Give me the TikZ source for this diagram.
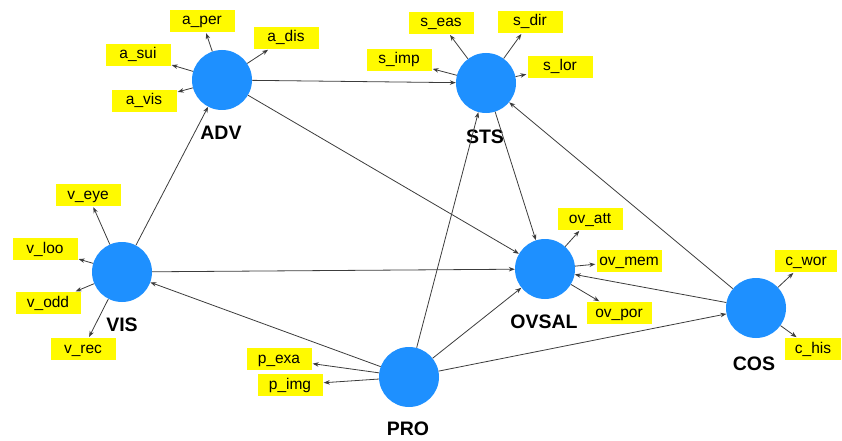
\documentclass[tikz,border=0pt]{standalone}
\usepackage{fontspec}
\setmainfont{Liberation Sans}
\usetikzlibrary{arrows.meta}
\definecolor{lvblue}{RGB}{30,144,255}
\definecolor{indyellow}{RGB}{255,250,0}
\definecolor{linegray}{RGB}{60,60,60}
\begin{document}
\begin{tikzpicture}[x=1pt,y=-1pt,
  lv/.style={circle, fill=lvblue, minimum size=60pt, inner sep=0pt},
  lvname/.style={font=\fontsize{19.5}{19.5}\selectfont\bfseries, text=black, inner sep=0pt},
  ind/.style={fill=indyellow, minimum width=65pt, minimum height=22pt, inner sep=0pt,
    font=\fontsize{15.5}{15.5}\selectfont, text height=11pt, text depth=3pt},
  reg/.style={draw=linegray, line width=0.8pt, -{Stealth[length=6pt,width=4.5pt]}},
  ld/.style={reg, shorten >=1pt}
]
\useasboundingbox (0,0) rectangle (842,441);

% latent variables
\node[lv] (ADV) at (222,80) {};
\node[lv] (STS) at (486,83) {};
\node[lv] (VIS) at (122,272) {};
\node[lv] (OVSAL) at (545,269) {};
\node[lv] (COS) at (756,308) {};
\node[lv] (PRO) at (409,377) {};

\node[lvname] (tADV) at (221,133) {ADV};
\node[lvname] (tSTS) at (485,137) {STS};
\node[lvname] (tVIS) at (122,325) {VIS};
\node[lvname] (tOVSAL) at (544,322) {OVSAL};
\node[lvname] (tCOS) at (754,364) {COS};
\node[lvname] (tPRO) at (408,429) {PRO};

% indicators
\node[ind] (a_per) at (202,21) {a\_per};
\node[ind] (a_dis) at (286,38) {a\_dis};
\node[ind] (a_sui) at (138,55) {a\_sui};
\node[ind] (a_vis) at (144,101) {a\_vis};

\node[ind] (s_eas) at (441,23) {s\_eas};
\node[ind] (s_dir) at (530,22) {s\_dir};
\node[ind] (s_imp) at (399,60) {s\_imp};
\node[ind] (s_lor) at (560,67) {s\_lor};

\node[ind] (v_eye) at (88,195) {v\_eye};
\node[ind] (v_loo) at (45,249) {v\_loo};
\node[ind] (v_odd) at (48,303) {v\_odd};
\node[ind] (v_rec) at (83,349) {v\_rec};

\node[ind] (ov_att) at (590,219) {ov\_att};
\node[ind] (ov_mem) at (629,261) {ov\_mem};
\node[ind] (ov_por) at (619,313) {ov\_por};

\node[ind, minimum width=62pt] (c_wor) at (806,261) {c\_wor};
\node[ind, minimum width=56pt] (c_his) at (813,349) {c\_his};

\node[ind] (p_exa) at (279,359) {p\_exa};
\node[ind] (p_img) at (290,385) {p\_img};

% structural paths
\draw[reg] (ADV) -- (STS);
\draw[reg] (ADV) -- (OVSAL);
\draw[reg] (VIS) -- (ADV);
\draw[reg] (VIS) -- (OVSAL);
\draw[reg] (PRO) -- (VIS);
\draw[reg] (PRO) -- (STS);
\draw[reg] (PRO) -- (OVSAL);
\draw[reg] (PRO) -- (COS);
\draw[reg] (STS) -- (OVSAL);
\draw[reg] (COS) -- (STS);
\draw[reg] (COS) -- (OVSAL);

% loadings
\foreach \i in {a_per,a_dis,a_sui,a_vis} \draw[ld] (ADV) -- (\i);
\foreach \i in {s_eas,s_dir,s_imp,s_lor} \draw[ld] (STS) -- (\i);
\foreach \i in {v_eye,v_loo,v_odd,v_rec} \draw[ld] (VIS) -- (\i);
\foreach \i in {ov_att,ov_mem,ov_por} \draw[ld] (OVSAL) -- (\i);
\foreach \i in {c_wor,c_his} \draw[ld] (COS) -- (\i);
\foreach \i in {p_exa,p_img} \draw[ld] (PRO) -- (\i);
\end{tikzpicture}
\end{document}
